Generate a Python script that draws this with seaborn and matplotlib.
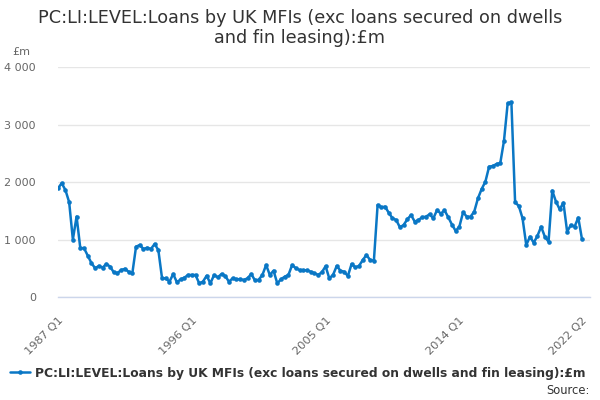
import numpy as np
import pandas as pd
import matplotlib
matplotlib.use('Agg')
import matplotlib.pyplot as plt
import seaborn as sns
from matplotlib.ticker import FuncFormatter

# 数据：1987 Q1 - 2022 Q2 季度数据（£m）
quarters = pd.period_range('1987Q1', '2022Q2', freq='Q').strftime('%Y Q%q').tolist()
values = [
    1890, 1980, 1860, 1650, 1000, 1400, 850, 850, 720, 590,
    500, 540, 510, 575, 530, 430, 415, 470, 490, 440,
    412, 875, 904, 835, 857, 835, 922, 817, 325, 325,
    267, 400, 255, 308, 336, 383, 383, 383, 238, 267,
    370, 238, 383, 342, 400, 365, 267, 325, 308, 308,
    296, 325, 400, 290, 300, 383, 556, 383, 458, 238,
    308, 353, 383, 556, 500, 470, 465, 465, 440, 412,
    385, 430, 535, 325, 383, 540, 458, 440, 365, 574,
    516, 540, 643, 730, 643, 631, 1600, 1560, 1571, 1466,
    1369, 1340, 1212, 1252, 1351, 1426, 1310, 1340, 1386, 1397,
    1438, 1369, 1513, 1450, 1507, 1390, 1260, 1150, 1223, 1473,
    1397, 1397, 1484, 1716, 1878, 2005, 2266, 2278, 2313, 2325,
    2713, 3368, 3386, 1647, 1583, 1369, 904, 1049, 944, 1061,
    1223, 1049, 962, 1849, 1657, 1525, 1640, 1136, 1252, 1223,
    1380, 1003,
]
series_name = 'PC:LI:LEVEL:Loans by UK MFIs (exc loans secured on dwells and fin leasing):£m'
tick_pos = [0, 9, 18, 27, 36, 45, 54, 63, 72, 81, 90, 99, 108, 117, 126, 135, 141]
label_pos = {0: '1987 Q1', 36: '1996 Q1', 72: '2005 Q1', 108: '2014 Q1', 141: '2022 Q2'}

df = pd.DataFrame({'idx': np.arange(len(values)), 'quarter': quarters, 'value': values})

sns.set_theme(style='white')
plt.rcParams['font.family'] = ['DejaVu Sans']

fig = plt.figure(figsize=(6, 4), dpi=100)
ax = fig.add_axes([58 / 600, 1 - 297 / 400, 532 / 600, 230 / 400])

line_color = '#0a77c5'
sns.lineplot(data=df, x='idx', y='value', ax=ax, color=line_color, linewidth=1.8,
             marker='o', markersize=3.3, markeredgewidth=0, label=series_name, legend=False)

ax.set_xlim(0, 141 * 532 / 524)
ax.set_ylim(0, 4000)
ax.set_yticks([0, 1000, 2000, 3000, 4000])
ax.yaxis.set_major_formatter(FuncFormatter(lambda v, p: f'{int(v):,}'.replace(',', ' ')))
ax.grid(axis='y', color='#e6e6e6', linewidth=1)
ax.set_axisbelow(True)

ax.set_xticks(tick_pos)
ax.set_xticklabels([label_pos.get(p, '') for p in tick_pos], rotation=45, ha='right',
                   rotation_mode='anchor')
ax.tick_params(axis='x', length=10, width=1, color='#ccd6eb', labelsize=8.2, labelcolor='#666666', pad=3)
ax.tick_params(axis='y', length=0, labelsize=8, labelcolor='#666666', pad=16)

for s in ['top', 'right', 'left']:
    ax.spines[s].set_visible(False)
ax.spines['bottom'].set_color('#ccd6eb')
ax.spines['bottom'].set_linewidth(1)
ax.set_xlabel('')
ax.set_ylabel('')

fig.text(0.5, 1 - 28 / 400,
         'PC:LI:LEVEL:Loans by UK MFIs (exc loans secured on dwells\nand fin leasing):£m',
         ha='center', va='center', fontsize=12.7, color='#333333', linespacing=1.15)
fig.text(12 / 600, 1 - 52 / 400, '£m', ha='left', va='center', fontsize=8, color='#666666')

handles, labels = ax.get_legend_handles_labels()
fig.legend(handles, labels, loc='center left', bbox_to_anchor=(4 / 600, 1 - 373 / 400),
           frameon=False, handlelength=1.6, handletextpad=0.4, borderpad=0,
           prop={'weight': 'bold', 'size': 8.8}, labelcolor='#333333')
fig.text(590 / 600, 1 - 390 / 400, 'Source:', ha='right', va='center', fontsize=8.3, color='#333333')

fig.savefig('out.png', dpi=100)
